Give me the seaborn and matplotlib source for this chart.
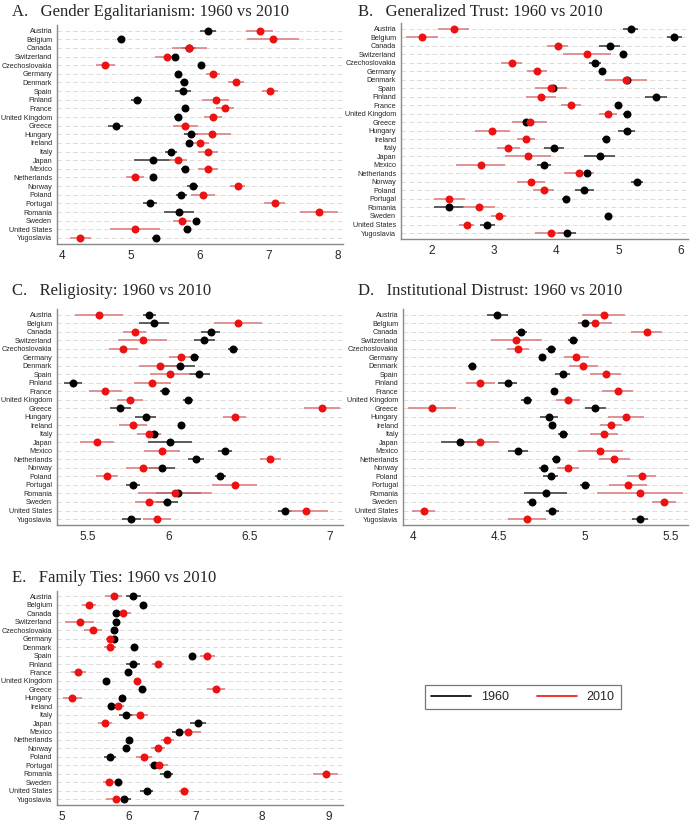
import numpy as np
import pandas as pd
import matplotlib
matplotlib.use("Agg")
import matplotlib.pyplot as plt
from matplotlib.lines import Line2D
import seaborn as sns

countries = ["Austria", "Belgium", "Canada", "Switzerland", "Czechoslovakia", "Germany",
             "Denmark", "Spain", "Finland", "France", "United Kingdom", "Greece", "Hungary",
             "Ireland", "Italy", "Japan", "Mexico", "Netherlands", "Norway", "Poland",
             "Portugal", "Romania", "Sweden", "United States", "Yugoslavia"]

# A. gender egalitarianism
gender_1960 = [6.12, 4.86, 5.84, 5.64, 6.02, 5.69, 5.77, 5.76, 5.09, 5.79, 5.68, 4.78, 5.88,
               5.84, 5.58, 5.32, 5.79, 5.32, 5.90, 5.73, 5.28, 5.70, 5.95, 5.81, 5.36]
gender_1960_ci = [0.12, 0.06, 0.10, 0.06, 0.04, 0.04, 0.05, 0.12, 0.08, 0.03, 0.05, 0.11, 0.10,
                  0.03, 0.09, 0.27, 0.06, 0.04, 0.08, 0.08, 0.10, 0.22, 0.05, 0.04, 0.05]
gender_2010 = [6.87, 7.06, 5.85, 5.52, 4.63, 6.19, 6.53, 7.02, 6.23, 6.37, 6.20, 5.79, 6.18,
               6.01, 6.12, 5.68, 6.12, 5.06, 6.55, 6.05, 7.09, 7.73, 5.75, 5.06, 4.27]
gender_2010_ci = [0.20, 0.38, 0.25, 0.17, 0.14, 0.10, 0.12, 0.12, 0.19, 0.13, 0.13, 0.18, 0.27,
                  0.12, 0.14, 0.13, 0.14, 0.13, 0.11, 0.17, 0.15, 0.28, 0.13, 0.36, 0.15]

# B. generalized trust
trust_1960 = [5.20, 5.90, 4.86, 5.08, 4.62, 4.74, 5.14, 3.95, 5.60, 5.00, 5.14, 3.52, 5.13,
              4.80, 3.96, 4.70, 3.80, 4.49, 5.30, 4.45, 4.15, 2.27, 4.84, 2.89, 4.17]
trust_1960_ci = [0.12, 0.12, 0.17, 0.06, 0.10, 0.04, 0.05, 0.05, 0.18, 0.05, 0.07, 0.04, 0.13,
                 0.06, 0.16, 0.25, 0.11, 0.05, 0.10, 0.15, 0.06, 0.24, 0.06, 0.12, 0.15]
trust_2010 = [2.35, 1.84, 4.02, 4.49, 3.28, 3.69, 5.12, 3.91, 3.76, 4.23, 4.83, 3.57, 2.97,
              3.51, 3.23, 3.54, 2.78, 4.36, 3.59, 3.80, 2.28, 2.76, 3.07, 2.56, 3.92]
trust_2010_ci = [0.25, 0.26, 0.17, 0.39, 0.17, 0.16, 0.34, 0.26, 0.24, 0.16, 0.15, 0.28, 0.28,
                 0.14, 0.19, 0.37, 0.39, 0.24, 0.23, 0.17, 0.25, 0.26, 0.12, 0.12, 0.27]

# C. religiosity
relig_1960 = [5.88, 5.91, 6.26, 6.22, 6.40, 6.16, 6.07, 6.19, 5.41, 5.98, 6.12, 5.70, 5.86,
              6.08, 5.91, 6.01, 6.35, 6.17, 5.96, 6.32, 5.78, 6.06, 5.99, 6.72, 5.77]
relig_1960_ci = [0.04, 0.095, 0.06, 0.065, 0.03, 0.03, 0.095, 0.065, 0.055, 0.03, 0.03, 0.065, 0.065,
                 0.02, 0.03, 0.135, 0.045, 0.05, 0.08, 0.035, 0.045, 0.14, 0.07, 0.045, 0.06]
relig_2010 = [5.57, 6.43, 5.79, 5.84, 5.72, 6.08, 5.95, 6.01, 5.90, 5.61, 5.76, 6.95, 6.41,
              5.78, 5.88, 5.56, 5.96, 6.63, 5.84, 5.62, 6.41, 6.04, 5.88, 6.85, 5.93]
relig_2010_ci = [0.15, 0.15, 0.07, 0.15, 0.09, 0.075, 0.13, 0.125, 0.115, 0.10, 0.08, 0.11, 0.07,
                 0.085, 0.075, 0.105, 0.11, 0.065, 0.10, 0.07, 0.14, 0.23, 0.085, 0.14, 0.085]

# D. institutional distrust
distrust_1960 = [4.49, 5.00, 4.63, 4.93, 4.80, 4.75, 4.34, 4.87, 4.55, 4.82, 4.66, 5.06, 4.79,
                 4.81, 4.87, 4.27, 4.61, 4.83, 4.76, 4.80, 5.00, 4.77, 4.69, 4.81, 5.32]
distrust_1960_ci = [0.06, 0.04, 0.03, 0.03, 0.03, 0.02, 0.02, 0.045, 0.055, 0.02, 0.03, 0.06, 0.05,
                    0.02, 0.03, 0.11, 0.06, 0.025, 0.025, 0.045, 0.03, 0.125, 0.025, 0.04, 0.045]
distrust_2010 = [5.11, 5.06, 5.36, 4.60, 4.61, 4.95, 4.99, 5.12, 4.39, 5.19, 4.90, 4.11, 5.24,
                 5.15, 5.11, 4.39, 5.09, 5.17, 4.90, 5.33, 5.25, 5.32, 5.46, 4.06, 4.66]
distrust_2010_ci = [0.125, 0.10, 0.09, 0.15, 0.065, 0.075, 0.085, 0.09, 0.085, 0.09, 0.07, 0.14, 0.105,
                    0.065, 0.08, 0.11, 0.13, 0.09, 0.065, 0.085, 0.11, 0.25, 0.07, 0.065, 0.11]

# E. family ties
family_1960 = [6.07, 6.21, 5.82, 5.81, 5.79, 5.78, 6.08, 6.95, 6.07, 5.99, 5.67, 6.20, 5.90,
               5.74, 5.96, 7.04, 6.76, 6.00, 5.96, 5.73, 6.38, 6.57, 5.85, 6.27, 5.93]
family_1960_ci = [0.11, 0.04, 0.04, 0.03, 0.04, 0.03, 0.03, 0.04, 0.10, 0.02, 0.04, 0.05, 0.04,
                  0.02, 0.10, 0.12, 0.11, 0.03, 0.04, 0.09, 0.05, 0.10, 0.03, 0.10, 0.11]
family_2010 = [5.78, 5.41, 5.92, 5.27, 5.47, 5.72, 5.72, 7.18, 6.44, 5.25, 6.13, 7.31, 5.16,
               5.85, 6.17, 5.65, 6.89, 6.58, 6.44, 6.23, 6.45, 8.95, 5.71, 6.83, 5.81]
family_2010_ci = [0.125, 0.10, 0.12, 0.22, 0.13, 0.05, 0.09, 0.11, 0.09, 0.11, 0.05, 0.14, 0.14,
                  0.09, 0.125, 0.11, 0.19, 0.10, 0.10, 0.12, 0.14, 0.19, 0.09, 0.07, 0.15]

sns.set_theme(style="white")
plt.rcParams['font.family'] = ['Liberation Sans', 'DejaVu Sans']

RED = "#ee1111"
RED_CI = "#dd7777"
BLACK = "#000000"
BLACK_CI = "#333333"

W, H = 691, 824
fig = plt.figure(figsize=(W / 100, H / 100), dpi=100)


def panel(rect, title, title_pos, v60, e60, v10, e10, xlim, xticks, xticklabels):
    ax = fig.add_axes(rect)
    df = pd.DataFrame({
        "country": countries * 2,
        "value": list(v60) + list(v10),
        "year": ["1960"] * len(countries) + ["2010"] * len(countries),
    })
    pos = np.arange(len(countries))
    ax.errorbar(v60, pos, xerr=e60, fmt="none", ecolor=BLACK_CI, elinewidth=1.1, zorder=2)
    ax.errorbar(v10, pos, xerr=e10, fmt="none", ecolor=RED_CI, elinewidth=1.1, zorder=2)
    sns.pointplot(data=df, x="value", y="country", hue="year", order=countries,
                  palette={"1960": BLACK, "2010": RED}, errorbar=None, linestyle="none",
                  markers="o", markersize=3.7, dodge=False, ax=ax, legend=False)
    for c in ax.collections:
        c.set_zorder(3)
    for ln in ax.lines:
        ln.set_zorder(3)
    ax.set_xlim(*xlim)
    ax.set_ylim(24.7, -0.65)
    ax.set_xticks(xticks)
    ax.set_xticklabels(xticklabels, fontsize=8.5)
    ax.set_xlabel("")
    ax.set_ylabel("")
    ax.tick_params(axis="y", labelsize=5.2, length=2.5, width=0.8, color="#888888", pad=1)
    ax.tick_params(axis="x", length=3, width=0.8, color="#888888", pad=1.5)
    for yy in pos:
        ax.axhline(yy, color="#dddddd", lw=0.7, ls=(0, (5, 3)), zorder=0)
    sns.despine(ax=ax, top=True, right=True)
    for s in ("left", "bottom"):
        ax.spines[s].set_color("#888888")
        ax.spines[s].set_linewidth(1.0)
    fig.text(title_pos[0] / W, 1 - title_pos[1] / H, title, fontsize=12,
             family=['Liberation Serif', 'DejaVu Serif'], va="center", ha="left")
    return ax


def r(l, t, rgt, b):
    return [l / W, 1 - b / H, (rgt - l) / W, (b - t) / H]


panel(r(57, 25, 343, 244), "A.   Gender Egalitarianism: 1960 vs 2010", (12, 12),
      gender_1960, gender_1960_ci, gender_2010, gender_2010_ci,
      (3.93, 8.08), [4, 5, 6, 7, 8], ["4", "5", "6", "7", "8"])
panel(r(401, 23, 688, 239), "B.   Generalized Trust: 1960 vs 2010", (358, 12),
      trust_1960, trust_1960_ci, trust_2010, trust_2010_ci,
      (1.5, 6.12), [2, 3, 4, 5, 6], ["2", "3", "4", "5", "6"])
panel(r(57, 309, 343, 525), "C.   Religiosity: 1960 vs 2010", (12, 291),
      relig_1960, relig_1960_ci, relig_2010, relig_2010_ci,
      (5.31, 7.08), [5.5, 6, 6.5, 7], ["5.5", "6", "6.5", "7"])
panel(r(403, 309, 688, 525), "D.   Institutional Distrust: 1960 vs 2010", (358, 291),
      distrust_1960, distrust_1960_ci, distrust_2010, distrust_2010_ci,
      (3.94, 5.60), [4, 4.5, 5, 5.5], ["4", "4.5", "5", "5.5"])
panel(r(57, 591, 343, 805), "E.   Family Ties: 1960 vs 2010", (12, 578),
      family_1960, family_1960_ci, family_2010, family_2010_ci,
      (4.93, 9.21), [5, 6, 7, 8, 9], ["5", "6", "7", "8", "9"])

handles = [Line2D([0], [0], color=BLACK, lw=1.2), Line2D([0], [0], color=RED, lw=1.2)]
leg = fig.legend(handles, ["1960", "2010"], loc="center", bbox_to_anchor=(523 / W, 1 - 697 / H),
                 ncol=2, frameon=True, fancybox=False, handlelength=3.2,
                 columnspacing=2.2, borderpad=0.5, prop={'size': 9})
leg.get_frame().set_edgecolor("#555555")
leg.get_frame().set_linewidth(0.9)

fig.savefig("out.png", dpi=100)
